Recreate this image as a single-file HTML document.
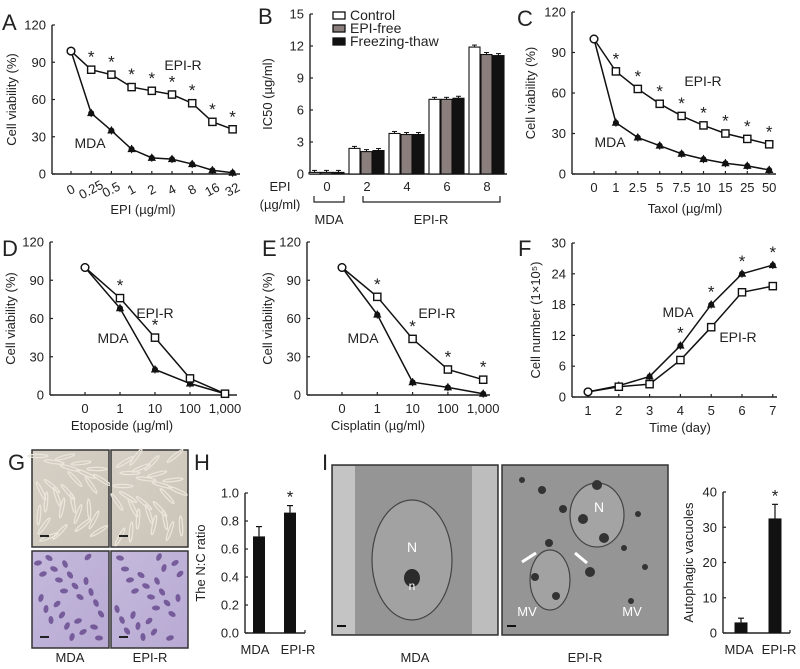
<!DOCTYPE html>
<html><head><meta charset="utf-8">
<style>
html,body{margin:0;padding:0;background:#fff;}
svg{display:block;font-family:"Liberation Sans",Arial,sans-serif;}
</style></head>
<body>
<svg id="fig" width="800" height="669" viewBox="0 0 800 669" xmlns="http://www.w3.org/2000/svg">
<defs>
<linearGradient id="gBeige" x1="0" y1="0" x2="1" y2="1"><stop offset="0" stop-color="#d6d0c6"/><stop offset="1" stop-color="#cbc4b8"/></linearGradient>
<linearGradient id="gPurp" x1="0" y1="0" x2="1" y2="1"><stop offset="0" stop-color="#c5b9dc"/><stop offset="1" stop-color="#b8aad3"/></linearGradient>
</defs>
</svg>
<script>
// ---- data ----
const aCats=["0","0.25","0.5","1","2","4","8","16","32"];
const aEpiR=[99,84,80,70,67,64,57,42,36];
const aMda=[99,49,35,20,13,12,8,3,1];
const cvTicks=[0,30,60,90,120];
const bCats=["0","2","4","6","8"];
const bControl=[0.15,2.4,3.8,7.0,11.9];
const bFree=[0.15,2.1,3.7,7.0,11.2];
const bFreeze=[0.15,2.2,3.7,7.1,11.1];
const bTicks=[0,3,6,9,12,15];
const cCats=["0","1","2.5","5","7.5","10","15","25","50"];
const cEpiR=[100,76,63,52,43,36,30,26,22];
const cMda=[100,38,27,21,15,11,8,6,3];
const dCats=["0","1","10","100","1,000"];
const dEpiR=[100,76,45,13,1];
const dMda=[100,68,20,9,1];
const eCats=["0","1","10","100","1,000"];
const eEpiR=[100,77,44,20,12];
const eMda=[100,63,10,6,1];
const fCats=["1","2","3","4","5","6","7"];
const fMda=[1,2.2,4,10,18,24,25.7];
const fEpiR=[1,2,2.5,7.2,13.6,20.4,21.6];
const fTicks=[0,6,12,18,24,30];
const hCats=["MDA","EPI-R"];
const hVals=[0.69,0.86];
const hErr=[0.07,0.05];
const hTicks=[0,0.2,0.4,0.6,0.8,1.0];
const iCats=["MDA","EPI-R"];
const iVals=[3,32.5];
const iErr=[1.2,4];
const iTicks=[0,10,20,30,40];

const NS="http://www.w3.org/2000/svg";
const svg=document.getElementById('fig');
function mk(tag,attrs,parent,text){const e=document.createElementNS(NS,tag);for(const k in attrs)e.setAttribute(k,attrs[k]);if(text!==undefined)e.textContent=text;(parent||svg).appendChild(e);return e;}
function grp(name){const g=document.createElementNS(NS,'g');


svg.appendChild(g);return g;}
function txt(g,x,y,s,size,anchor,name,extra){const t=mk('text',Object.assign({x:x,y:y,'font-size':size,'text-anchor':anchor||'middle',fill:'#222'},extra||{}),g,s);


return t;}
function letter(x,y,s){const g=grp('panel-label-'+s.toLowerCase());txt(g,x,y,s,22,'start','panel-letter');}

function yAxis(g,ax,yb,yt,vmax,ticks,fmt){
  const ys=v=>yb-(v/vmax)*(yb-yt);
  mk('line',{x1:ax,y1:yt,x2:ax,y2:yb,stroke:'#222','stroke-width':1.4},g);
  ticks.forEach(t=>{const y=ys(t);mk('line',{x1:ax,y1:y,x2:ax+3,y2:y,stroke:'#222','stroke-width':1.2},g);
    txt(g,ax-6,y+4.5,fmt?fmt(t):String(t),13,'end','y-tick-label');});
  return ys;
}
function yTitle(g,x,y,s){txt(g,x,y,s,13,'middle','y-axis-title',{transform:`rotate(-90 ${x} ${y})`});}
function star(g,x,y){txt(g,x,y,'*',17,'middle','significance-star');}

function lineChart(o){
  const g=grp(o.name);
  const ys=yAxis(g,o.ax,o.yb,o.yt,o.vmax,o.ticks);
  const xs=i=>o.x0+i*o.step;
  mk('line',{x1:o.ax,y1:o.yb,x2:o.xend,y2:o.yb,stroke:'#222','stroke-width':1.4},g);
  o.cats.forEach((c,i)=>{mk('line',{x1:xs(i),y1:o.yb,x2:xs(i),y2:o.yb-3,stroke:'#222','stroke-width':1.2},g);
    if(o.rot){txt(g,xs(i),o.yb+20,c,13,'middle','x-tick-label',{transform:`rotate(-28 ${xs(i)} ${o.yb+16})`});}
    else txt(g,xs(i),o.yb+18,c,13,'middle','x-tick-label');});
  [[o.filled,'filled'],[o.open,'open']].forEach(([arr,kind])=>{
    const sg=document.createElementNS(NS,'g');
    
    
    g.appendChild(sg);
    const pts=arr.map((v,i)=>xs(i)+','+ys(v)).join(' ');
    mk('polyline',{points:pts,fill:'none',stroke:'#111','stroke-width':1.5},sg);
    arr.forEach((v,i)=>{const x=xs(i),y=ys(v);
      mk('line',{x1:x,y1:y-4,x2:x,y2:y+4,stroke:'#111','stroke-width':1},sg);
      if(i===0&&o.firstCircle){mk('circle',{cx:x,cy:y,r:3.8,fill:'#fff',stroke:'#111','stroke-width':1.4},sg);}
      else if(kind==='open'){mk('rect',{x:x-3.6,y:y-3.6,width:7.2,height:7.2,fill:'#fff',stroke:'#111','stroke-width':1.4},sg);}
      else {mk('path',{d:`M${x} ${y-4.5} L${x+4.2} ${y+3} L${x-4.2} ${y+3}Z`,fill:'#111'},sg);mk('circle',{cx:x,cy:y,r:3,fill:'#111'},sg);}
    });
  });
  (o.stars||[]).forEach(i=>{const src=o.starOn==='filled'?o.filled:o.open;star(g,xs(i),ys(src[i])-7);});
  yTitle(g,o.tx,(o.yb+o.yt)/2,o.ytitle);
  if(o.xtitle)txt(g,o.xtx,o.xty,o.xtitle,13,'middle','x-axis-title');
  txt(g,o.l1[0],o.l1[1],'EPI-R',14,'middle','series-label-epi-r');
  txt(g,o.l2[0],o.l2[1],'MDA',14,'middle','series-label-mda');
  return g;
}

letter(2,30,'A');
lineChart({name:'chart-a',ax:52,yb:174,yt:25,vmax:120,ticks:cvTicks,cats:aCats,x0:71,step:20.2,xend:240,rot:true,
  open:aEpiR,filled:aMda,firstCircle:true,stars:[1,2,3,4,5,6,7,8],starOn:'open',tx:16,ytitle:'Cell viability (%)',
  xtitle:'EPI (µg/ml)',xtx:143,xty:214,l1:[183,70],l2:[90,148]});

letter(258,24,'B');
(function(){
  const g=grp('chart-b');
  const ax=310,yb=174,yt=14;
  const ys=yAxis(g,ax,yb,yt,15,bTicks);
  mk('line',{x1:ax,y1:yb,x2:507,y2:yb,stroke:'#222','stroke-width':1.4},g);
  const gx=i=>327+i*40;
  const series=[[bControl,'#fff','control'],[bFree,'#8a7f7c','epi-free'],[bFreeze,'#111','freezing-thaw']];
  bCats.forEach((c,i)=>{
    series.forEach(([arr,col,nm],j)=>{const x=gx(i)-18+j*12;const y=ys(arr[i]);
      const r=mk('rect',{x:x,y:y,width:11,height:yb-y,fill:col,stroke:'#111','stroke-width':1.1},g);
      
      
      mk('line',{x1:x+5.5,y1:y-2,x2:x+5.5,y2:y,stroke:'#111','stroke-width':1},g);
      mk('line',{x1:x+3,y1:y-2,x2:x+8,y2:y-2,stroke:'#111','stroke-width':1},g);});
    txt(g,gx(i),191,c,13,'middle','x-tick-label');
  });
  yTitle(g,272,94,'IC50 (µg/ml)');
  txt(g,280,191,'EPI',13,'middle','x-axis-title');
  txt(g,280,209,'(µg/ml)',13,'middle','x-axis-unit');
  mk('path',{d:'M314 196 V202 H344 V196',fill:'none',stroke:'#222','stroke-width':1.2},g);
  mk('path',{d:'M363 196 V202 H500 V196',fill:'none',stroke:'#222','stroke-width':1.2},g);
  txt(g,329,224,'MDA',13,'middle','group-label-mda');
  txt(g,431,224,'EPI-R',13,'middle','group-label-epi-r');
  const lg=document.createElementNS(NS,'g');
  
  
  g.appendChild(lg);
  [['Control','#fff'],['EPI-free','#8a7f7c'],['Freezing-thaw','#111']].forEach(([n,col],k)=>{
    mk('rect',{x:333,y:12+k*13,width:12,height:7,fill:col,stroke:'#111','stroke-width':1.3},lg);
    txt(lg,350,20+k*13,n,14,'start','legend-entry');
  });
})();

letter(517,26,'C');
lineChart({name:'chart-c',ax:572,yb:174,yt:12,vmax:120,ticks:cvTicks,cats:cCats,x0:594,step:21.9,xend:776,
  open:cEpiR,filled:cMda,firstCircle:true,stars:[1,2,3,4,5,6,7,8],starOn:'open',tx:535,ytitle:'Cell viability (%)',
  xtitle:'Taxol (µg/ml)',xtx:685,xty:213,l1:[703,86],l2:[610,147]});

letter(2,256,'D');
lineChart({name:'chart-d',ax:50,yb:395,yt:242,vmax:120,ticks:cvTicks,cats:dCats,x0:85,step:35,xend:237,
  open:dEpiR,filled:dMda,firstCircle:true,stars:[1,2],starOn:'open',tx:15,ytitle:'Cell viability (%)',
  xtitle:'Etoposide (µg/ml)',xtx:122,xty:430,l1:[155,318],l2:[113,343]});

letter(262,256,'E');
lineChart({name:'chart-e',ax:307,yb:395,yt:242,vmax:120,ticks:cvTicks,cats:eCats,x0:342,step:35.3,xend:490,
  open:eEpiR,filled:eMda,firstCircle:true,stars:[1,2,3,4],starOn:'open',tx:272,ytitle:'Cell viability (%)',
  xtitle:'Cisplatin (µg/ml)',xtx:378,xty:430,l1:[437,318],l2:[363,343]});

letter(518,256,'F');
lineChart({name:'chart-f',ax:572,yb:397,yt:243,vmax:30,ticks:fTicks,cats:fCats,x0:588,step:30.8,xend:777,
  open:fEpiR,filled:fMda,firstCircle:true,stars:[3,4,5,6],starOn:'filled',tx:540,ytitle:'Cell number (1×10⁵)',
  xtitle:'Time (day)',xtx:680,xty:432,l1:[738,342],l2:[678,317]});

letter(8,470,'G');
(function(){
  const g=grp('photo-panel-g');
  const boxes=[[32,450,'url(#gBeige)','phase-mda'],[111,450,'url(#gBeige)','phase-epi-r'],[32,551,'url(#gPurp)','stain-mda'],[111,551,'url(#gPurp)','stain-epi-r']];
  boxes.forEach(([x,y,f,n],k)=>{
    const r=mk('rect',{x:x,y:y,width:77,height:97,fill:f,stroke:'#333','stroke-width':1.5},g);
    
    
    for(let i=0;i<26;i++){
      const cx=x+6+((i*37+k*13)%66),cy=y+6+((i*23+k*17)%86);
      if(k<2) mk('ellipse',{cx:cx,cy:cy,rx:10,ry:1.6,fill:'none',stroke:'#ebe6dc','stroke-width':1.2,transform:`rotate(${(i*47)%180} ${cx} ${cy})`},g);
      else mk('ellipse',{cx:cx,cy:cy,rx:4,ry:2.5,fill:'#5e3f86',opacity:0.75,transform:`rotate(${(i*53)%180} ${cx} ${cy})`},g);
    }
    mk('line',{x1:x+8,y1:y+86,x2:x+17,y2:y+86,stroke:'#222','stroke-width':2},g);
  });
  txt(g,70,662,'MDA',13,'middle','photo-label-mda');
  txt(g,150,662,'EPI-R',13,'middle','photo-label-epi-r');
})();

letter(194,470,'H');
function barChart(name,ax,yb,yt,vmax,ticks,cats,vals,errs,cx,w,title,tx,fmt,xend,lx){
  const g=grp(name);
  const ys=yAxis(g,ax,yb,yt,vmax,ticks,fmt);
  mk('line',{x1:ax,y1:yb,x2:xend,y2:yb,stroke:'#222','stroke-width':1.4},g);
  mk('line',{x1:xend,y1:yb,x2:xend,y2:yb-3,stroke:'#222','stroke-width':1.2},g);
  cats.forEach((c,i)=>{const y=ys(vals[i]);
    const r=mk('rect',{x:cx[i]-w/2,y:y,width:w,height:yb-y,fill:'#111'},g);
    
    
    const ye=ys(vals[i]+errs[i]);
    mk('line',{x1:cx[i],y1:ye,x2:cx[i],y2:y,stroke:'#111','stroke-width':1.2},g);
    mk('line',{x1:cx[i]-3,y1:ye,x2:cx[i]+3,y2:ye,stroke:'#111','stroke-width':1.2},g);
    txt(g,cx[i]+lx[i],yb+21,c,13,'middle','x-tick-label');
  });
  star(g,cx[1],ys(vals[1]+errs[1])-3);
  yTitle(g,tx,(yb+yt)/2,title);
}
barChart('chart-h',245,633,493,1.0,hTicks,hCats,hVals,hErr,[259,290],12,'The N:C ratio',205,v=>v.toFixed(1),305,[-4,8]);

letter(322,470,'I');
(function(){
  const g=grp('tem-images');
  [[332,'mda'],[502,'epi-r']].forEach(([x,n],k)=>{
    const r=mk('rect',{x:x,y:465,width:166,height:170,fill:'#959595',stroke:'#333','stroke-width':1.5},g);
    
    
    if(k===0){mk('rect',{x:x+1,y:466,width:22,height:168,fill:'#c4c4c4'},g);mk('rect',{x:x+140,y:466,width:25,height:168,fill:'#bdbdbd'},g);
      mk('ellipse',{cx:x+80,cy:560,rx:40,ry:60,fill:'#a2a2a2',stroke:'#444','stroke-width':1.2},g);
      mk('ellipse',{cx:x+80,cy:578,rx:8,ry:9,fill:'#2b2b2b'},g);
      txt(g,x+80,590,'n',12,'middle','nucleolus-label',{fill:'#fff'});
      txt(g,x+80,552,'N',14,'middle','nucleus-label',{fill:'#fff'});}
    else{mk('ellipse',{cx:x+95,cy:515,rx:27,ry:32,fill:'#a4a4a4',stroke:'#444','stroke-width':1.2},g);
      mk('ellipse',{cx:x+48,cy:580,rx:20,ry:30,fill:'#a2a2a2',stroke:'#444','stroke-width':1.2},g);
      for(let i=0;i<14;i++){mk('circle',{cx:x+20+((i*41)%130),cy:480+((i*29)%140),r:3+(i%3),fill:'#333'},g);}
      txt(g,x+97,512,'N',14,'middle','nucleus-label',{fill:'#fff'});
      txt(g,x+25,616,'MV',13,'middle','mv-label',{fill:'#fff'});
      txt(g,x+130,616,'MV',13,'middle','mv-label',{fill:'#fff'});
      mk('path',{d:`M${x+20} 562 L${x+34} 553`,stroke:'#fff','stroke-width':3},g);
      mk('path',{d:`M${x+85} 563 L${x+73} 553`,stroke:'#fff','stroke-width':3},g);}
    mk('line',{x1:x+5,y1:626,x2:x+14,y2:626,stroke:'#111','stroke-width':2},g);
  });
  txt(g,415,662,'MDA',13,'middle','tem-label-mda');
  txt(g,585,662,'EPI-R',13,'middle','tem-label-epi-r');
})();
barChart('chart-i',723,633,492,40,iTicks,iCats,iVals,iErr,[741,775],13,'Autophagic vacuoles',693,v=>String(v),790,[-2,4]);
</script>
</body></html>
